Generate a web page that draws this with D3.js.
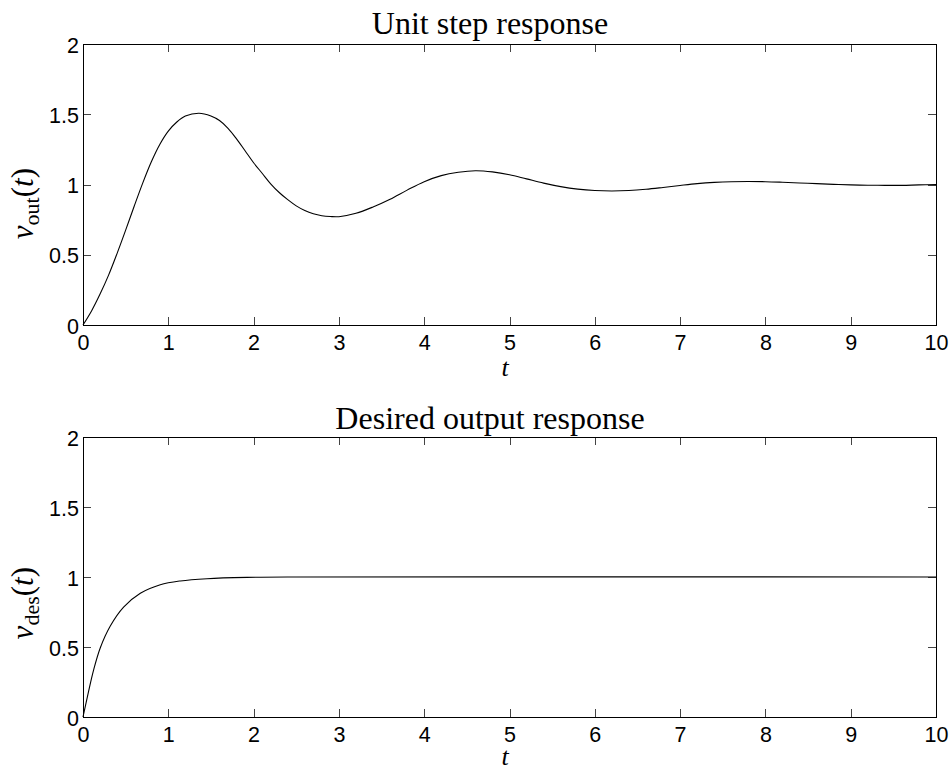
<!DOCTYPE html>
<html lang="en">
<head>
    <meta charset="UTF-8">
    <title>Unit step response</title>
    <script src="https://d3js.org/d3.v7.min.js"></script>
    <style>
        body {
            margin: 0;
            background: #fff;
        }
        .tick text {
            font-family: "Liberation Sans", Arial, sans-serif;
            font-size: 21.5px;
            fill: #000;
        }
        .serif {
            font-family: "Liberation Serif", "Times New Roman", serif;
            fill: #000;
        }
    </style>
</head>
<body>
    <div id="chart"></div>

    <script>
        // values
        const stepT = [0, 0.1, 0.2, 0.3, 0.4, 0.5, 0.6, 0.7, 0.8, 0.9, 1.0, 1.1, 1.2, 1.36,
            1.5, 1.6, 1.7, 1.8, 1.9, 2.0, 2.1, 2.2, 2.3, 2.4, 2.5, 2.6, 2.7, 2.8, 2.9, 3.0,
            3.2, 3.4, 3.6, 3.8, 4.0, 4.2, 4.4, 4.6, 4.8, 5.0, 5.2, 5.4, 5.6, 5.8, 6.0, 6.2,
            6.4, 6.6, 6.8, 7.0, 7.2, 7.4, 7.6, 7.8, 8.0, 8.2, 8.4, 8.6, 8.8, 9.0, 9.2, 9.4, 9.6, 9.8, 10];
        const stepV = [0, 0.1, 0.22, 0.355, 0.51, 0.675, 0.845, 1.01, 1.16, 1.285, 1.38, 1.445, 1.487, 1.507,
            1.487, 1.455, 1.40, 1.325, 1.24, 1.155, 1.08, 1.005, 0.943, 0.892, 0.848, 0.815, 0.792, 0.778, 0.772, 0.771,
            0.795, 0.84, 0.895, 0.96, 1.02, 1.063, 1.087, 1.098, 1.09, 1.07, 1.04, 1.01, 0.985, 0.967, 0.957, 0.954,
            0.957, 0.966, 0.979, 0.993, 1.006, 1.015, 1.02, 1.021, 1.02, 1.016, 1.011, 1.006, 1.001, 0.997, 0.995, 0.994, 0.994, 0.997, 0.999];

        const desT = [0, 0.066, 0.124, 0.203, 0.32, 0.476, 0.672, 0.906, 1.141, 1.454, 1.922, 2.5, 10];
        const desV = [0, 0.185, 0.335, 0.495, 0.65, 0.785, 0.884, 0.945, 0.972, 0.988, 0.997, 1.0, 1.0];

        const xTicks = [0, 1, 2, 3, 4, 5, 6, 7, 8, 9, 10];
        const yTicks = [0, 0.5, 1, 1.5, 2];
        const xTickLabels = ["0", "1", "2", "3", "4", "5", "6", "7", "8", "9", "10"];
        const yTickLabels = ["0", "0.5", "1", "1.5", "2"];

        const width = 949;
        const height = 770;

        const svg = d3.select("#chart").append("svg")
            .attr("width", width)
            .attr("height", height);

        const left = 83, right = 936;

        const x = d3.scaleLinear().domain([0, 10]).range([left, right]);

        function drawPanel(cfg) {
            const y = d3.scaleLinear().domain([0, 2]).range([cfg.bottom, cfg.top]);
            const g = svg.append("g");

            const tickColor = "#444";

            const bottomAxis = d3.axisBottom(x)
                .tickValues(xTicks)
                .tickFormat((d, i) => xTickLabels[i])
                .tickSizeInner(-8).tickSizeOuter(0).tickPadding(10);
            const topAxis = d3.axisTop(x)
                .tickValues(xTicks).tickFormat("")
                .tickSizeInner(-8).tickSizeOuter(0);
            const leftAxis = d3.axisLeft(y)
                .tickValues(yTicks)
                .tickFormat((d, i) => yTickLabels[i])
                .tickSizeInner(-8).tickSizeOuter(0).tickPadding(4);
            const rightAxis = d3.axisRight(y)
                .tickValues(yTicks).tickFormat("")
                .tickSizeInner(-8).tickSizeOuter(0);

            g.append("g").attr("transform", `translate(0,${cfg.bottom})`).call(bottomAxis);
            g.append("g").attr("transform", `translate(0,${cfg.top})`).call(topAxis);
            const gy = g.append("g").attr("transform", `translate(${left},0)`).call(leftAxis);
            g.append("g").attr("transform", `translate(${right},0)`).call(rightAxis);

            g.selectAll(".domain").remove();
            g.selectAll(".tick line").attr("stroke", tickColor).attr("shape-rendering", "crispEdges");
            gy.selectAll(".tick text").attr("dy", "0.38em");

            // frame
            g.append("rect")
                .attr("x", left)
                .attr("y", cfg.top)
                .attr("width", right - left)
                .attr("height", cfg.bottom - cfg.top)
                .attr("fill", "none")
                .attr("stroke", "#000")
                .attr("stroke-width", 1)
                .attr("shape-rendering", "crispEdges");

            const line = d3.line()
                .x((d, i) => x(cfg.t[i]))
                .y(d => y(d))
                .curve(d3.curveCatmullRom.alpha(0.5));

            g.append("path")
                .datum(cfg.v)
                .attr("fill", "none")
                .attr("stroke", "#000")
                .attr("stroke-width", 1.1)
                .attr("d", line);

            // title
            g.append("text")
                .attr("class", "serif")
                .attr("x", 490)
                .attr("y", cfg.titleY)
                .attr("text-anchor", "middle")
                .style("font-size", "32px")
                .text(cfg.title);

            // x label
            g.append("text")
                .attr("class", "serif")
                .attr("x", 505)
                .attr("y", cfg.xLabelY)
                .attr("text-anchor", "middle")
                .style("font-size", "26px")
                .style("font-style", "italic")
                .text("t");

            // y label
            const yl = g.append("text")
                .attr("class", "serif")
                .attr("transform", `translate(33,${cfg.labelEnd}) rotate(-90)`)
                .attr("text-anchor", "end")
                .style("font-size", "31px");
            yl.append("tspan").style("font-style", "italic").text("v");
            yl.append("tspan").attr("dy", 6).style("font-size", "22px").text(cfg.sub);
            yl.append("tspan").attr("dy", -6).text("(");
            yl.append("tspan").style("font-style", "italic").text("t");
            yl.append("tspan").text(")");
        }

        drawPanel({ top: 44, bottom: 325, t: stepT, v: stepV, title: "Unit step response", titleY: 34, xLabelY: 376, sub: "out", labelEnd: 168 });
        drawPanel({ top: 437, bottom: 717, t: desT, v: desV, title: "Desired output response", titleY: 429, xLabelY: 765, sub: "des", labelEnd: 567 });
    </script>
</body>
</html>
